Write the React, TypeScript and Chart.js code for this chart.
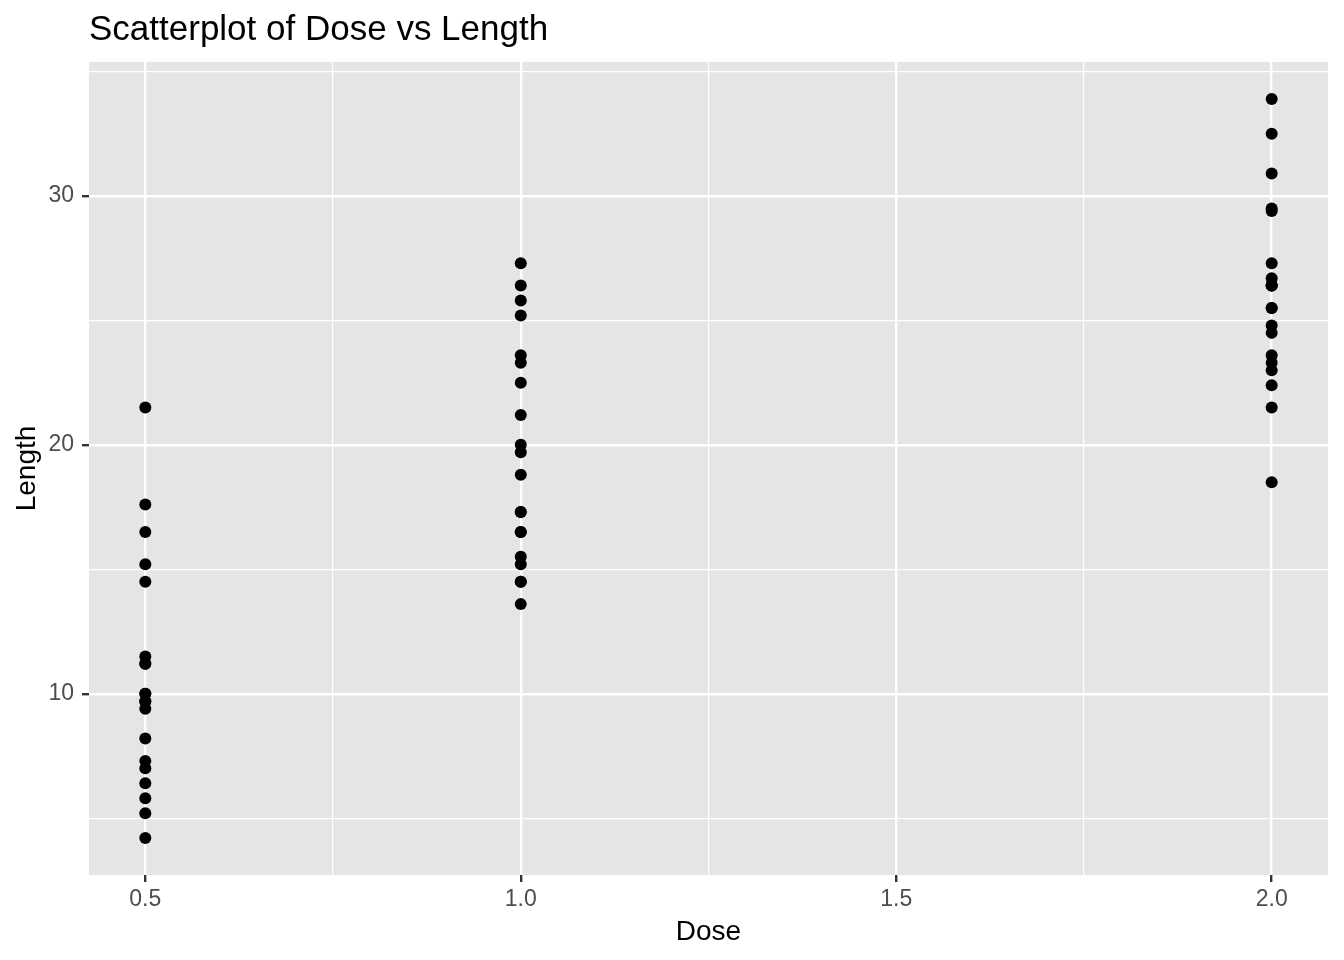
import React, { useEffect, useRef } from "react";
import { Chart, registerables } from "chart.js";

Chart.register(...registerables);

const doses: number[] = [
  0.5, 0.5, 0.5, 0.5, 0.5, 0.5, 0.5, 0.5, 0.5, 0.5,
  1, 1, 1, 1, 1, 1, 1, 1, 1, 1,
  2, 2, 2, 2, 2, 2, 2, 2, 2, 2,
  0.5, 0.5, 0.5, 0.5, 0.5, 0.5, 0.5, 0.5, 0.5, 0.5,
  1, 1, 1, 1, 1, 1, 1, 1, 1, 1,
  2, 2, 2, 2, 2, 2, 2, 2, 2, 2,
];
const lengths: number[] = [
  4.2, 11.5, 7.3, 5.8, 6.4, 10, 11.2, 11.2, 5.2, 7,
  16.5, 16.5, 15.2, 17.3, 22.5, 17.3, 13.6, 14.5, 18.8, 15.5,
  23.6, 18.5, 33.9, 25.5, 26.4, 32.5, 26.7, 21.5, 23.3, 29.5,
  15.2, 21.5, 17.6, 9.7, 14.5, 10, 8.2, 9.4, 16.5, 9.7,
  19.7, 23.3, 23.6, 26.4, 20, 25.2, 25.8, 21.2, 14.5, 27.3,
  25.5, 26.4, 22.4, 24.5, 24.8, 30.9, 26.4, 27.3, 29.4, 23,
];
const xTicks: number[] = [0.5, 0.75, 1, 1.25, 1.5, 1.75, 2];
const xMajor: number[] = [0.5, 1, 1.5, 2];
const yTicks: number[] = [5, 10, 15, 20, 25, 30, 35];
const yMajor: number[] = [10, 20, 30];

const titleText = "Scatterplot of Dose vs Length";
const xTitle = "Dose";
const yTitle = "Length";

const FONT = "'Liberation Sans', Arial, Helvetica, sans-serif";

export default function App() {
  const ref = useRef<HTMLCanvasElement | null>(null);

  useEffect(() => {
    if (!ref.current) return;
    const xmin = Math.min(...doses), xmax = Math.max(...doses);
    const ymin = Math.min(...lengths), ymax = Math.max(...lengths);
    const xe = (xmax - xmin) * 0.05;
    const ye = (ymax - ymin) * 0.05;

    const isMajor = (arr: number[], v: number) => arr.some((m) => Math.abs(m - v) < 1e-9);

    const panelPlugin = {
      id: "panel",
      beforeDraw(chart: any) {
        const { ctx, chartArea } = chart;
        ctx.save();
        ctx.fillStyle = "#E5E5E5";
        ctx.fillRect(chartArea.left, chartArea.top, chartArea.right - chartArea.left, chartArea.bottom - chartArea.top);
        ctx.restore();
      },
      afterDraw(chart: any) {
        const { ctx, chartArea } = chart;
        ctx.save();
        ctx.fillStyle = "#000000";
        ctx.textAlign = "left";
        ctx.textBaseline = "alphabetic";
        ctx.font = `35px ${FONT}`;
        ctx.fillText(titleText, chartArea.left, 40);
        ctx.font = `28px ${FONT}`;
        ctx.textAlign = "center";
        ctx.fillText(xTitle, (chartArea.left + chartArea.right) / 2, 940);
        ctx.translate(35, (chartArea.top + chartArea.bottom) / 2);
        ctx.rotate(-Math.PI / 2);
        ctx.fillText(yTitle, 0, 0);
        ctx.restore();
      },
    };

    const chart = new Chart(ref.current, {
      type: "scatter",
      data: {
        datasets: [
          {
            data: doses.map((d, i) => ({ x: d, y: lengths[i] })),
            backgroundColor: "#000000",
            borderWidth: 0,
            pointRadius: 6,
            pointHoverRadius: 6,
          },
        ],
      },
      options: {
        responsive: false,
        animation: false,
        events: [],
        layout: { padding: { left: 0, right: 16, top: 62, bottom: 0 } },
        plugins: {
          legend: { display: false },
          title: { display: false },
          tooltip: { enabled: false },
        },
        scales: {
          x: {
            type: "linear",
            min: xmin - xe,
            max: xmax + xe,
            afterBuildTicks: (scale: any) => {
              scale.ticks = xTicks.map((v) => ({ value: v }));
            },
            afterFit: (scale: any) => {
              scale.height = 85;
            },
            border: { display: false },
            grid: {
              color: "#FFFFFF",
              lineWidth: (c: any) => (isMajor(xMajor, c.tick.value) ? 2.4 : 1.2),
              tickColor: (c: any) => (isMajor(xMajor, c.tick.value) ? "#333333" : "rgba(0,0,0,0)"),
              tickLength: 7,
              tickWidth: 2.4,
            },
            ticks: {
              autoSkip: false,
              maxRotation: 0,
              padding: 4,
              color: "#4D4D4D",
              font: { family: FONT, size: 23 },
              callback: (v: any) => (isMajor(xMajor, Number(v)) ? Number(v).toFixed(1) : ""),
            },
          },
          y: {
            type: "linear",
            min: ymin - ye,
            max: ymax + ye,
            afterBuildTicks: (scale: any) => {
              scale.ticks = yTicks.map((v) => ({ value: v }));
            },
            afterFit: (scale: any) => {
              scale.width = 89;
            },
            border: { display: false },
            grid: {
              color: "#FFFFFF",
              lineWidth: (c: any) => (isMajor(yMajor, c.tick.value) ? 2.4 : 1.2),
              tickColor: (c: any) => (isMajor(yMajor, c.tick.value) ? "#333333" : "rgba(0,0,0,0)"),
              tickLength: 7,
              tickWidth: 2.4,
            },
            ticks: {
              autoSkip: false,
              padding: 8,
              color: "#4D4D4D",
              font: { family: FONT, size: 23 },
              callback: (v: any) => (isMajor(yMajor, Number(v)) ? String(Number(v)) : ""),
            },
          },
        },
      },
      plugins: [panelPlugin],
    } as any);

    return () => chart.destroy();
  }, []);

  return (
    <div style={{ position: "fixed", left: 0, top: 0, width: 1344, height: 960, background: "#FFFFFF" }}>
      <canvas ref={ref} width={1344} height={960} style={{ display: "block", width: 1344, height: 960 }} />
    </div>
  );
}
